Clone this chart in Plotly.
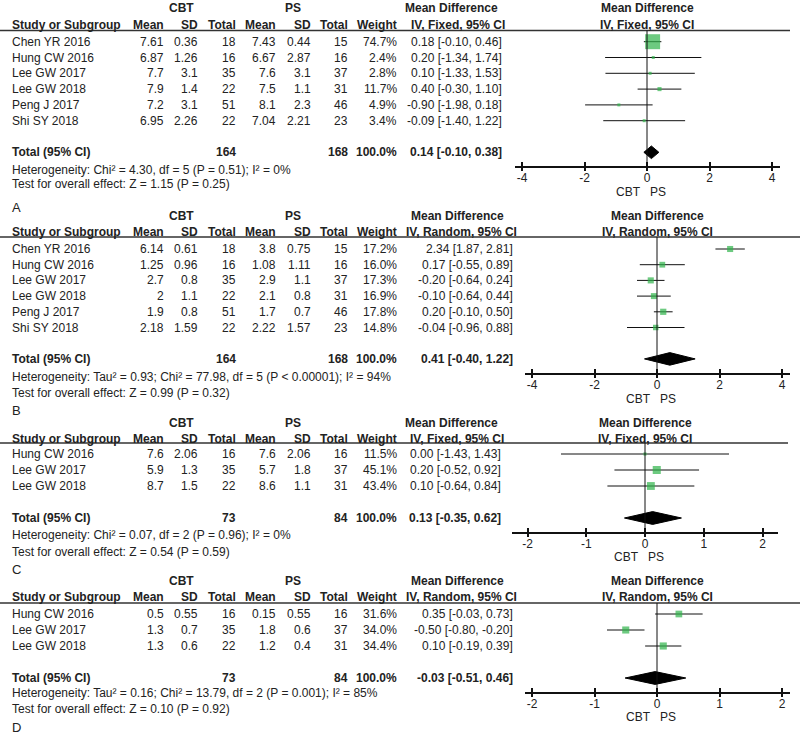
import plotly.graph_objects as go

W, H = 800, 738
FONT = "Liberation Sans, Arial, sans-serif"
TXT = "#222222"
GREEN = "#2fb34a"

# ---------------- Panel A ----------------
A_study = ["Chen YR 2016", "Hung CW 2016", "Lee GW 2017", "Lee GW 2018", "Peng J 2017", "Shi SY 2018"]
A_cbt_mean = [7.61, 6.87, 7.7, 7.9, 7.2, 6.95]
A_cbt_sd = [0.36, 1.26, 3.1, 1.4, 3.1, 2.26]
A_cbt_n = [18, 16, 35, 22, 51, 22]
A_ps_mean = [7.43, 6.67, 7.6, 7.5, 8.1, 7.04]
A_ps_sd = [0.44, 2.87, 3.1, 1.1, 2.3, 2.21]
A_ps_n = [15, 16, 37, 31, 46, 23]
A_weight = [74.7, 2.4, 2.8, 11.7, 4.9, 3.4]
A_md = [0.18, 0.20, 0.10, 0.40, -0.90, -0.09]
A_lo = [-0.10, -1.34, -1.33, -0.30, -1.98, -1.40]
A_hi = [0.46, 1.74, 1.53, 1.10, 0.18, 1.22]
A_tot_n = [164, 168]
A_tot_w = 100.0
A_tot_ci = [0.14, -0.10, 0.38]
A_method = "IV, Fixed, 95% CI"
A_het = "Heterogeneity: Chi² = 4.30, df = 5 (P = 0.51); I² = 0%"
A_test = "Test for overall effect: Z = 1.15 (P = 0.25)"
A_ticks = [-4, -2, 0, 2, 4]

# ---------------- Panel B ----------------
B_study = ["Chen YR 2016", "Hung CW 2016", "Lee GW 2017", "Lee GW 2018", "Peng J 2017", "Shi SY 2018"]
B_cbt_mean = [6.14, 1.25, 2.7, 2, 1.9, 2.18]
B_cbt_sd = [0.61, 0.96, 0.8, 1.1, 0.8, 1.59]
B_cbt_n = [18, 16, 35, 22, 51, 22]
B_ps_mean = [3.8, 1.08, 2.9, 2.1, 1.7, 2.22]
B_ps_sd = [0.75, 1.11, 1.1, 0.8, 0.7, 1.57]
B_ps_n = [15, 16, 37, 31, 46, 23]
B_weight = [17.2, 16.0, 17.3, 16.9, 17.8, 14.8]
B_md = [2.34, 0.17, -0.20, -0.10, 0.20, -0.04]
B_lo = [1.87, -0.55, -0.64, -0.64, -0.10, -0.96]
B_hi = [2.81, 0.89, 0.24, 0.44, 0.50, 0.88]
B_tot_n = [164, 168]
B_tot_w = 100.0
B_tot_ci = [0.41, -0.40, 1.22]
B_method = "IV, Random, 95% CI"
B_het = "Heterogeneity: Tau² = 0.93; Chi² = 77.98, df = 5 (P < 0.00001); I² = 94%"
B_test = "Test for overall effect: Z = 0.99 (P = 0.32)"
B_ticks = [-4, -2, 0, 2, 4]

# ---------------- Panel C ----------------
C_study = ["Hung CW 2016", "Lee GW 2017", "Lee GW 2018"]
C_cbt_mean = [7.6, 5.9, 8.7]
C_cbt_sd = [2.06, 1.3, 1.5]
C_cbt_n = [16, 35, 22]
C_ps_mean = [7.6, 5.7, 8.6]
C_ps_sd = [2.06, 1.8, 1.1]
C_ps_n = [16, 37, 31]
C_weight = [11.5, 45.1, 43.4]
C_md = [0.00, 0.20, 0.10]
C_lo = [-1.43, -0.52, -0.64]
C_hi = [1.43, 0.92, 0.84]
C_tot_n = [73, 84]
C_tot_w = 100.0
C_tot_ci = [0.13, -0.35, 0.62]
C_method = "IV, Fixed, 95% CI"
C_het = "Heterogeneity: Chi² = 0.07, df = 2 (P = 0.96); I² = 0%"
C_test = "Test for overall effect: Z = 0.54 (P = 0.59)"
C_ticks = [-2, -1, 0, 1, 2]

# ---------------- Panel D ----------------
D_study = ["Hung CW 2016", "Lee GW 2017", "Lee GW 2018"]
D_cbt_mean = [0.5, 1.3, 1.3]
D_cbt_sd = [0.55, 0.7, 0.6]
D_cbt_n = [16, 35, 22]
D_ps_mean = [0.15, 1.8, 1.2]
D_ps_sd = [0.55, 0.6, 0.4]
D_ps_n = [16, 37, 31]
D_weight = [31.6, 34.0, 34.4]
D_md = [0.35, -0.50, 0.10]
D_lo = [-0.03, -0.80, -0.19]
D_hi = [0.73, -0.20, 0.39]
D_tot_n = [73, 84]
D_tot_w = 100.0
D_tot_ci = [-0.03, -0.51, 0.46]
D_method = "IV, Random, 95% CI"
D_het = "Heterogeneity: Tau² = 0.16; Chi² = 13.79, df = 2 (P = 0.001); I² = 85%"
D_test = "Test for overall effect: Z = 0.10 (P = 0.92)"
D_ticks = [-2, -1, 0, 1, 2]

panel_labels = ["A", "B", "C", "D"]
group_labels = ["CBT", "PS"]
col_headers = ["Study or Subgroup", "Mean", "SD", "Total", "Mean", "SD", "Total", "Weight"]

# layout geometry (pixels in the 800x738 page) -- styling only
GEO = [
    dict(zero=647, ppu=31.25, x0=515, x1=780, line=30.5, axis=166, row0=41.7, sp=15.8,
         hdr1=8, hdr2=25, line_end=790, mdc=452, ivc=458, ci_r=503, lab_y=207, cbtps_y=192,
         het_y=170, test_y=184, box_k=0.73),
    dict(zero=657, ppu=31.25, x0=525, x1=790, line=237, axis=373, row0=249, sp=15.7,
         hdr1=216, hdr2=232, line_end=800, mdc=457, ivc=461, ci_r=514, lab_y=410, cbtps_y=399,
         het_y=377, test_y=393, box_k=0.83),
    dict(zero=645, ppu=58.75, x0=512, x1=778, line=443, axis=532, row0=454, sp=16.0,
         hdr1=423, hdr2=439, line_end=788, mdc=451, ivc=457, ci_r=502, lab_y=569, cbtps_y=557,
         het_y=535, test_y=552, box_k=0.56),
    dict(zero=657, ppu=62.5, x0=525, x1=790, line=603, axis=692, row0=614, sp=16.0,
         hdr1=581, hdr2=597, line_end=800, mdc=457, ivc=461, ci_r=514, lab_y=727, cbtps_y=717,
         het_y=693, test_y=709, box_k=0.60),
]
COL_R = [165, 199, 237, 277, 312, 349, 398]
CBT_C, PS_C = 181, 293

panels = [
    (A_study, A_cbt_mean, A_cbt_sd, A_cbt_n, A_ps_mean, A_ps_sd, A_ps_n, A_weight, A_md, A_lo, A_hi,
     A_tot_n, A_tot_w, A_tot_ci, A_method, A_het, A_test, A_ticks),
    (B_study, B_cbt_mean, B_cbt_sd, B_cbt_n, B_ps_mean, B_ps_sd, B_ps_n, B_weight, B_md, B_lo, B_hi,
     B_tot_n, B_tot_w, B_tot_ci, B_method, B_het, B_test, B_ticks),
    (C_study, C_cbt_mean, C_cbt_sd, C_cbt_n, C_ps_mean, C_ps_sd, C_ps_n, C_weight, C_md, C_lo, C_hi,
     C_tot_n, C_tot_w, C_tot_ci, C_method, C_het, C_test, C_ticks),
    (D_study, D_cbt_mean, D_cbt_sd, D_cbt_n, D_ps_mean, D_ps_sd, D_ps_n, D_weight, D_md, D_lo, D_hi,
     D_tot_n, D_tot_w, D_tot_ci, D_method, D_het, D_test, D_ticks),
]


def px_x(p):
    return p / W


def px_y(p):
    return 1 - p / H


def txt(s, xpx, ypx, anchor="left", bold=False, size=12):
    return dict(text=f"<b>{s}</b>" if bold else s, x=px_x(xpx), y=px_y(ypx),
                xref="paper", yref="paper", xanchor=anchor, yanchor="middle",
                showarrow=False, borderpad=0,
                font=dict(family=FONT, size=size, color=TXT))


def ci_text(m, l, h):
    return f"{m:.2f} [{l:.2f}, {h:.2f}]"


fig = go.Figure()
annotations = []
shapes = []
layout_axes = {}

for k, (pan, g) in enumerate(zip(panels, GEO), start=1):
    (study, cm, csd, cn, pm, psd, pn, wt, md, lo, hi, tot_n, tot_w, tot_ci,
     method, het, test, ticks) = pan
    n = len(study)
    sfx = "" if k == 1 else str(k)
    xa = f"x{sfx}"
    ya = f"y{sfx}"
    xname = f"xaxis{sfx}"
    yname = f"yaxis{sfx}"
    xov_ref = f"x{k + 4}"
    xov = f"xaxis{k + 4}"

    rows = list(range(n))
    tot_row = n + 1

    def ry(r):
        return g["row0"] + r * g["sp"]

    # headers
    annotations.append(txt(group_labels[0], CBT_C, g["hdr1"], "center", True))
    annotations.append(txt(group_labels[1], PS_C, g["hdr1"], "center", True))
    annotations.append(txt(col_headers[0], 11, g["hdr2"], "left", True))
    for h_, xr in zip(col_headers[1:], COL_R):
        annotations.append(txt(h_, xr, g["hdr2"], "right", True))
    annotations.append(txt("Mean Difference", g["mdc"], g["hdr1"], "center", True))
    annotations.append(txt(method, g["ivc"], g["hdr2"], "center", True))
    for yy, s in ((g["hdr1"], "Mean Difference"), (g["hdr2"], method)):
        annotations.append(dict(text=f"<b>{s}</b>", x=0, xref=xa, y=px_y(yy), yref="paper",
                                xanchor="center", yanchor="middle", showarrow=False, borderpad=0,
                                font=dict(family=FONT, size=12, color=TXT)))

    # study rows
    for i in rows:
        y = ry(i)
        annotations.append(txt(study[i], 11, y, "left"))
        vals = [cm[i], csd[i], cn[i], pm[i], psd[i], pn[i], f"{wt[i]:.1f}%"]
        for v, xr in zip(vals, COL_R):
            annotations.append(txt(str(v), xr, y, "right"))
        annotations.append(txt(ci_text(md[i], lo[i], hi[i]), g["ci_r"], y, "right"))

    # total row
    yt = ry(tot_row)
    annotations.append(txt("Total (95% CI)", 11, yt, "left", True))
    annotations.append(txt(str(tot_n[0]), COL_R[2], yt, "right", True))
    annotations.append(txt(str(tot_n[1]), COL_R[5], yt, "right", True))
    annotations.append(txt(f"{tot_w:.1f}%", COL_R[6], yt, "right", True))
    annotations.append(txt(ci_text(*tot_ci), g["ci_r"], yt, "right", True))
    annotations.append(txt(het, 11, g["het_y"], "left"))
    annotations.append(txt(test, 11, g["test_y"], "left"))
    annotations.append(txt(panel_labels[k - 1], 11, g["lab_y"], "left", size=13))

    # CBT / PS under axis (one text so both share a baseline)
    annotations.append(dict(text=f"{group_labels[0]}\u00a0\u00a0\u00a0{group_labels[1]}",
                            x=0, xref=xa, y=px_y(g["cbtps_y"]), yref="paper",
                            xanchor="center", xshift=-6, yanchor="middle", showarrow=False,
                            borderpad=0, font=dict(family=FONT, size=12, color=TXT)))

    # header rule
    shapes.append(dict(type="line", xref="paper", yref="paper", x0=0, x1=px_x(g["line_end"]),
                       y0=px_y(g["line"]), y1=px_y(g["line"]),
                       line=dict(color="#333333", width=1.5)))
    # zero line
    shapes.append(dict(type="line", xref=xa, yref=f"{ya} domain", x0=0, x1=0, y0=0, y1=1,
                       line=dict(color="#111111", width=1)))

    # study estimates with CI
    sizes = [max(3.0, g["box_k"] * w ** 0.7) for w in wt]
    fig.add_trace(go.Scatter(
        x=md, y=rows, xaxis=xa, yaxis=ya, mode="markers",
        marker=dict(symbol="square", color=GREEN, size=sizes, line=dict(width=0)),
        error_x=dict(type="data", symmetric=False,
                     array=[h - m for h, m in zip(hi, md)],
                     arrayminus=[m - l for m, l in zip(md, lo)],
                     color="#111111", thickness=1, width=0),
        showlegend=False, hoverinfo="skip", cliponaxis=False))

    # pooled diamond (on the overlay axis, which shares the same range)
    dh = 0.4
    m0, l0, h0 = tot_ci
    fig.add_trace(go.Scatter(
        x=[l0, m0, h0, m0, l0], y=[tot_row, tot_row - dh, tot_row, tot_row + dh, tot_row],
        xaxis=xov_ref, yaxis=ya, mode="lines", fill="toself", fillcolor="#000000",
        line=dict(color="#000000", width=1), showlegend=False, hoverinfo="skip"))

    xr0 = (g["x0"] - g["zero"]) / g["ppu"]
    xr1 = (g["x1"] - g["zero"]) / g["ppu"]
    ybot = (g["axis"] - g["row0"]) / g["sp"]
    ytop = (g["line"] - g["row0"]) / g["sp"]
    ticktext = [str(t) for t in ticks]

    layout_axes[xname] = dict(domain=[px_x(g["x0"]), min(1.0, px_x(g["x1"]))], range=[xr0, xr1],
                              anchor=ya, showline=True, linecolor="#111111", linewidth=1.5,
                              ticks="inside", ticklen=4, tickwidth=1.5, tickcolor="#111111",
                              tickvals=ticks, ticktext=ticktext, showgrid=False, zeroline=False,
                              tickfont=dict(family=FONT, size=12, color=TXT), fixedrange=True)
    layout_axes[xov] = dict(overlaying=xa, anchor=ya, range=[xr0, xr1], side="bottom",
                            ticks="outside", ticklen=4, tickwidth=1.5, tickcolor="#111111",
                            tickvals=ticks, showticklabels=False, showline=False,
                            showgrid=False, zeroline=False, fixedrange=True)
    layout_axes[yname] = dict(domain=[px_y(g["axis"]), px_y(g["line"])], range=[ybot, ytop],
                              anchor=xa, visible=False, showgrid=False, zeroline=False,
                              fixedrange=True)

fig.update_layout(
    width=W, height=H, margin=dict(l=0, r=0, t=0, b=0),
    paper_bgcolor="white", plot_bgcolor="rgba(0,0,0,0)",
    annotations=annotations, shapes=shapes, showlegend=False,
    **layout_axes)

# remove the default 8px page margin so the 800x738 figure fills the window exactly
fig.write_html("out.html", config={"displayModeBar": False},
               post_script="document.body.style.margin='0px';document.body.style.overflow='hidden';")
